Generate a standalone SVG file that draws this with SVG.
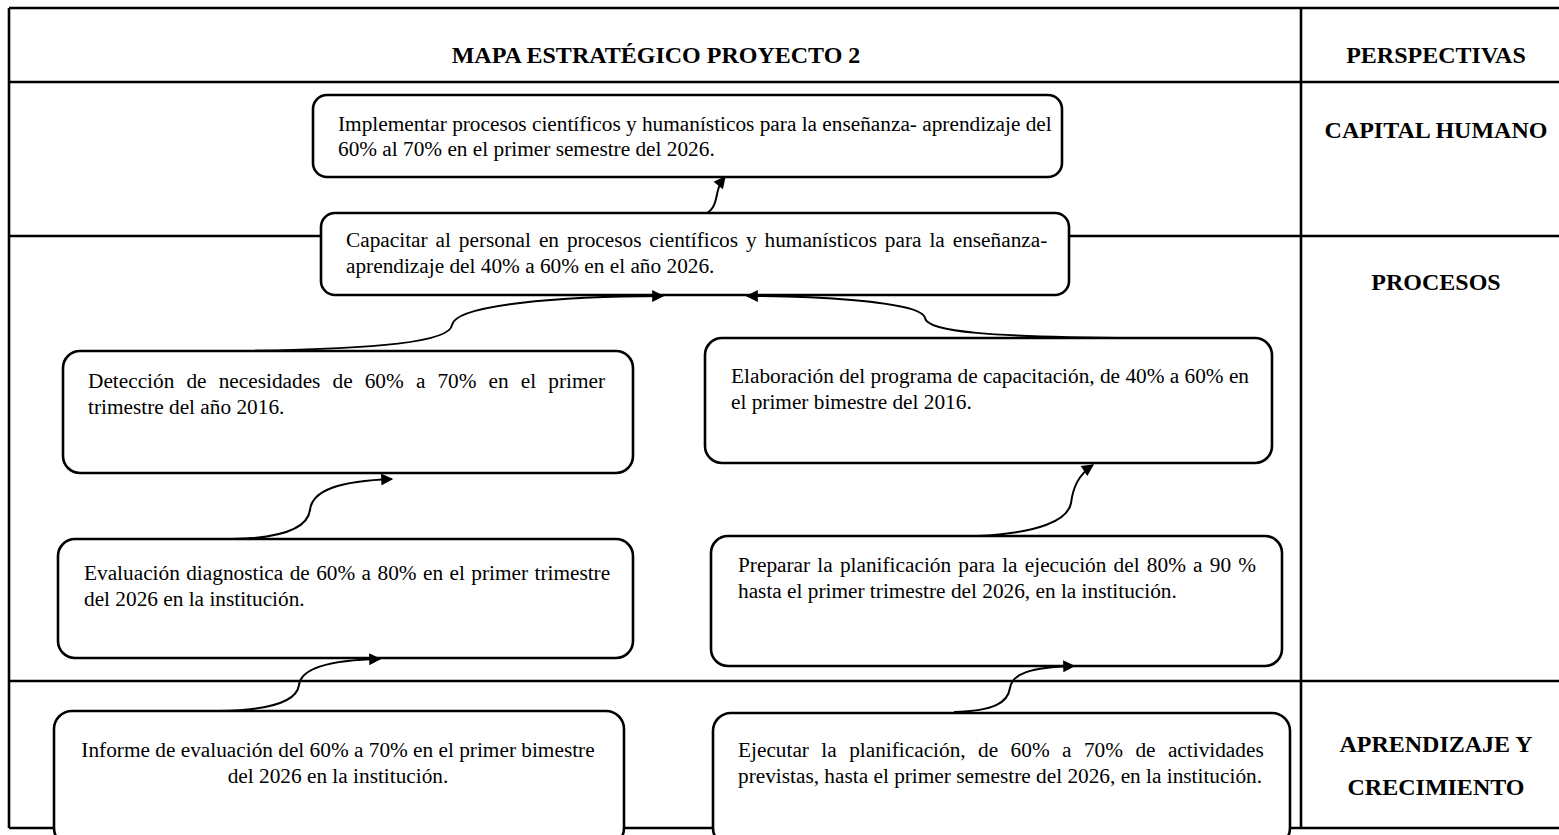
<svg xmlns="http://www.w3.org/2000/svg" width="1559" height="835" viewBox="0 0 1559 835">
<style>
.tl{stroke:#000;stroke-width:2.6;fill:none}
.box{fill:#fff;stroke:#000;stroke-width:2.6}
.t{font-family:"Liberation Serif","Times New Roman",serif;font-size:21.3px;fill:#000}
.h{font-family:"Liberation Serif","Times New Roman",serif;font-size:24px;font-weight:bold;fill:#000;text-anchor:middle}
.c{stroke:#000;stroke-width:2;fill:none;marker-end:url(#ah)}
</style>
<defs>
<marker id="ah" viewBox="0 0 10 10" refX="9" refY="5" markerWidth="15" markerHeight="12" markerUnits="userSpaceOnUse" orient="auto">
<path d="M0,0 L10,5 L0,10 z" fill="#000"/>
</marker>
</defs>
<rect width="1559" height="835" fill="#fff"/>
<g id="table">
<path class="tl" d="M9,8 H1559 M9,8 V828 M9,82 H1559 M1301,8 V828 M9,236 H1559 M9,681 H1559 M9,828 H1559"/>
<text class="h" x="656" y="63">MAPA ESTRATÉGICO PROYECTO 2</text>
<text class="h" x="1436" y="63">PERSPECTIVAS</text>
<text class="h" x="1436" y="138">CAPITAL HUMANO</text>
<text class="h" x="1436" y="290">PROCESOS</text>
<text class="h" x="1436" y="752">APRENDIZAJE Y</text>
<text class="h" x="1436" y="795">CRECIMIENTO</text>
</g>
<g id="n-implementar">
<rect class="box" x="313" y="95" width="749" height="82" rx="14"/>
<text class="t" x="338" y="131">Implementar procesos científicos y humanísticos para la enseñanza- aprendizaje del</text>
<text class="t" x="338" y="156">60% al 70% en el primer semestre del 2026.</text>
</g>
<g id="n-capacitar">
<rect class="box" x="321" y="213" width="748" height="82" rx="14"/>
<text class="t" x="346" y="247" word-spacing="2.6">Capacitar al personal en procesos científicos y humanísticos para la enseñanza-</text>
<text class="t" x="346" y="273">aprendizaje del 40% a 60% en el año 2026.</text>
</g>
<g id="n-deteccion">
<rect class="box" x="63" y="351" width="570" height="122" rx="17"/>
<text class="t" x="88" y="388" word-spacing="6.8">Detección de necesidades de 60% a 70% en el primer</text>
<text class="t" x="88" y="414">trimestre del año 2016.</text>
</g>
<g id="n-elaboracion">
<rect class="box" x="705" y="338" width="567" height="125" rx="17"/>
<text class="t" x="731" y="383">Elaboración del programa de capacitación, de 40% a 60% en</text>
<text class="t" x="731" y="409">el primer bimestre del 2016.</text>
</g>
<g id="n-evaluacion">
<rect class="box" x="58" y="539" width="575" height="119" rx="17"/>
<text class="t" x="84" y="580" word-spacing="1.1">Evaluación diagnostica de 60% a 80% en el primer trimestre</text>
<text class="t" x="84" y="606">del 2026 en la institución.</text>
</g>
<g id="n-preparar">
<rect class="box" x="711" y="536" width="571" height="130" rx="17"/>
<text class="t" x="738" y="572" word-spacing="1.9">Preparar la planificación para la ejecución del 80% a 90 %</text>
<text class="t" x="738" y="598">hasta el primer trimestre del 2026, en la institución.</text>
</g>
<g id="n-informe">
<rect class="box" x="54" y="711" width="570" height="135" rx="18"/>
<text class="t" x="338" y="757" text-anchor="middle">Informe de evaluación del 60% a 70% en el primer bimestre</text>
<text class="t" x="338" y="783" text-anchor="middle">del 2026 en la institución.</text>
</g>
<g id="n-ejecutar">
<rect class="box" x="713" y="713" width="577" height="133" rx="18"/>
<text class="t" x="738" y="757" word-spacing="7.1">Ejecutar la planificación, de 60% a 70% de actividades</text>
<text class="t" x="738" y="783">previstas, hasta el primer semestre del 2026, en la institución.</text>
</g>
<g id="connectors">
<path class="c" d="M707,213 C716,208 716,197 718,190 C719,186 721,182 725,177"/>
<path class="c" d="M240,351 C380,349 450,342 452,325 C455,305 560,296 663,296"/>
<path class="c" d="M1135,338 C990,337 927,332 925,318 C921,300 800,296 747,296"/>
<path class="c" d="M232,539 C290,538 308,525 310,510 C312,490 340,481 392,479"/>
<path class="c" d="M977,536 C1040,533 1068,520 1071,503 C1073,488 1078,475 1093,465"/>
<path class="c" d="M220,711 C275,710 297,700 299,685 C301,668 330,660 380,659"/>
<path class="c" d="M954,712 C995,711 1008,702 1010,688 C1012,674 1030,667 1074,666"/>
</g>
</svg>
